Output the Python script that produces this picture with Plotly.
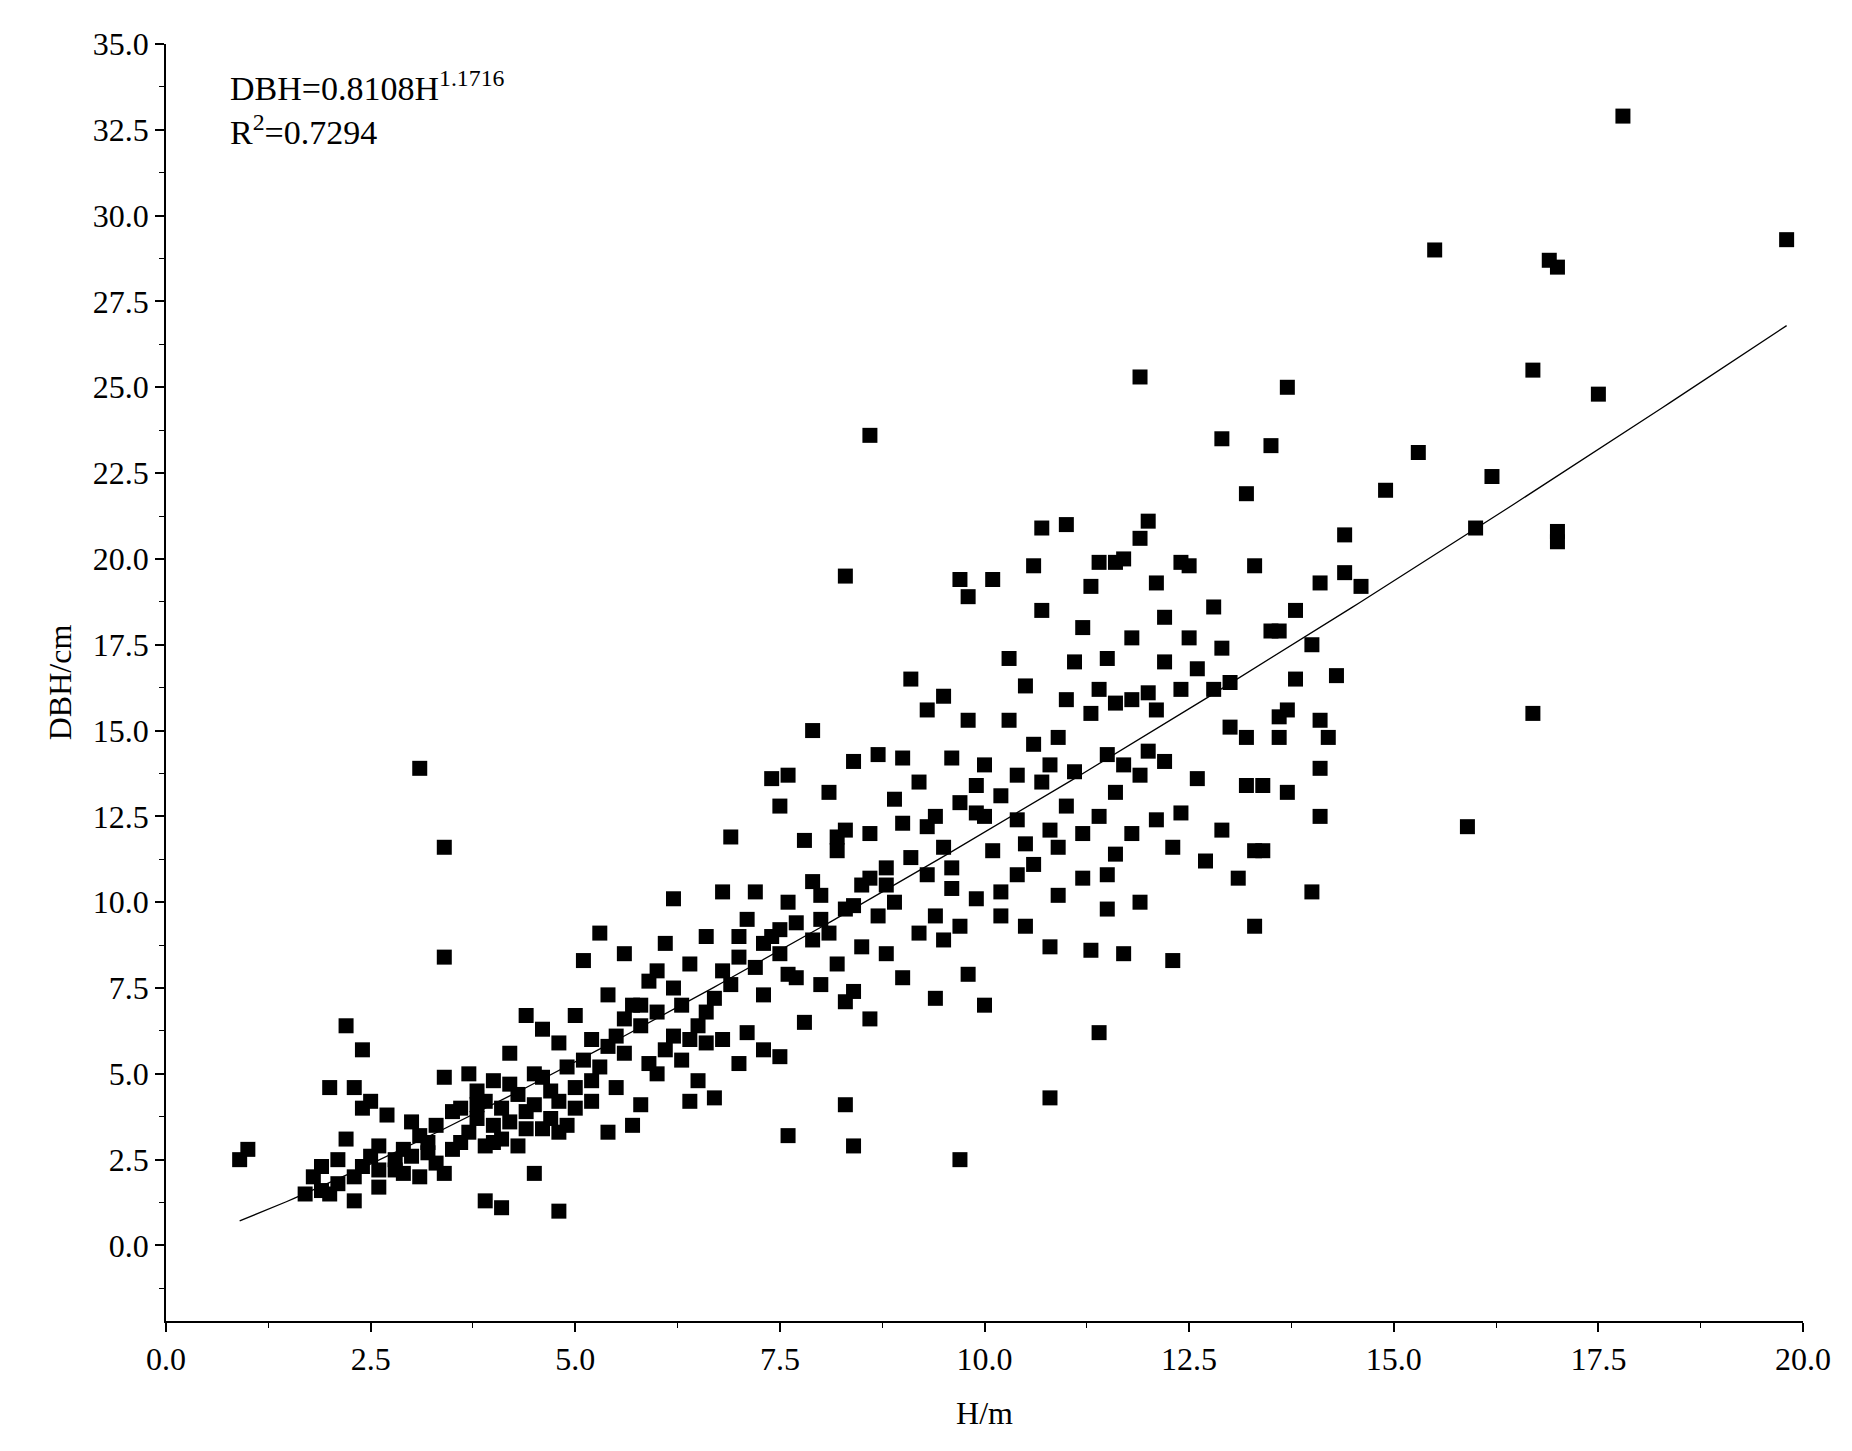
import numpy as np
import plotly.graph_objects as go

H = [0.9,1.0,3.1,3.4,3.4,8.6,8.3,11.9,13.7,12.9,13.5,15.5,17.8,19.8,16.9,17.0,16.7,17.5,15.3,14.9,16.2,16.0,17.0,17.0,16.7,15.9,14.0,14.1,14.1,14.1,14.2,14.3,14.4,14.4,14.6,14.1,13.8,14.0,13.2,13.3,11.4,10.8,9.7,8.4,8.3,7.6,4.8,4.1,3.9,4.5,2.2,2.4,2.0,1.7,2.3,
1.8,1.9,2.0,2.1,2.2,2.3,2.3,2.4,2.4,2.5,2.6,2.6,2.6,2.7,2.8,2.9,2.9,3.0,3.0,3.1,3.1,3.2,3.3,3.3,3.4,3.4,3.5,3.5,2.1,1.9,2.5,2.8,3.2,
3.6,3.7,3.7,3.8,3.8,3.9,3.9,4.0,4.0,4.1,4.1,4.2,4.2,4.3,4.3,4.4,4.4,4.5,4.5,4.6,4.6,4.7,4.7,4.8,4.8,4.9,4.9,5.0,5.0,3.6,3.8,4.0,4.2,4.4,4.6,4.8,5.0,
5.1,5.1,5.2,5.2,5.3,5.3,5.4,5.4,5.5,5.5,5.6,5.6,5.7,5.7,5.8,5.8,5.9,5.9,6.0,6.0,6.1,6.1,6.2,6.2,6.3,6.3,6.4,6.4,6.5,6.5,6.6,6.6,6.7,6.7,6.8,6.8,6.9,6.9,7.0,7.0,5.2,5.6,6.0,6.4,6.8,5.4,5.8,6.2,6.6,
7.1,7.1,7.2,7.2,7.3,7.3,7.4,7.4,7.5,7.5,7.5,7.6,7.6,7.7,7.7,7.8,7.8,7.9,7.9,8.0,8.0,8.1,8.1,8.2,8.2,8.3,8.3,8.4,8.4,8.5,8.5,8.6,8.6,8.7,8.7,8.8,8.8,8.9,8.9,9.0,9.0,7.3,7.6,8.0,8.4,8.8,7.9,8.2,8.6,9.0,7.0,7.5,8.3,
9.1,9.1,9.2,9.2,9.3,9.3,9.4,9.4,9.5,9.5,9.5,9.6,9.6,9.7,9.7,9.7,9.8,9.8,9.8,9.9,9.9,10.0,10.0,10.1,10.1,10.2,10.2,10.3,10.3,10.4,10.4,10.5,10.5,10.6,10.6,10.6,10.7,10.7,10.7,10.8,10.8,10.9,10.9,11.0,11.0,11.0,9.3,9.6,10.0,10.4,10.8,10.2,9.9,10.5,9.4,10.9,
11.1,11.1,11.2,11.2,11.3,11.3,11.3,11.4,11.4,11.4,11.5,11.5,11.5,11.6,11.6,11.6,11.7,11.7,11.7,11.8,11.8,11.8,11.9,11.9,11.9,12.0,12.0,12.1,12.1,12.1,12.2,12.2,12.3,12.3,12.4,12.4,12.4,12.5,12.5,12.6,12.7,12.8,12.8,12.9,12.9,13.0,13.0,11.2,11.6,12.0,12.6,11.5,12.2,
13.1,13.2,13.2,13.3,13.3,13.4,13.4,13.5,13.6,13.6,13.7,13.7,13.8,13.6]
DBH = [2.5,2.8,13.9,11.6,8.4,23.6,19.5,25.3,25.0,23.5,23.3,29.0,32.9,29.3,28.7,28.5,25.5,24.8,23.1,22.0,22.4,20.9,20.8,20.5,15.5,12.2,10.3,12.5,13.9,15.3,14.8,16.6,19.6,20.7,19.2,19.3,18.5,17.5,21.9,19.8,6.2,4.3,2.5,2.9,4.1,3.2,1.0,1.1,1.3,2.1,6.4,5.7,4.6,1.5,1.3,
2.0,2.3,1.5,2.5,3.1,2.0,4.6,2.3,4.0,4.2,2.2,2.9,1.7,3.8,2.5,2.8,2.1,3.6,2.6,2.0,3.2,2.7,3.5,2.4,4.9,2.1,3.9,2.8,1.8,1.6,2.6,2.2,3.0,
4.0,3.3,5.0,3.7,4.5,2.9,4.2,3.5,4.8,3.1,4.0,5.6,3.6,4.4,2.9,6.7,3.9,5.0,4.1,3.4,6.3,4.5,3.7,5.9,4.2,3.5,5.2,4.0,6.7,3.0,4.1,3.0,4.7,3.4,4.9,3.3,4.6,
5.4,8.3,4.8,6.0,9.1,5.2,3.3,7.3,6.1,4.6,8.5,5.6,7.0,3.5,6.4,4.1,7.7,5.3,6.8,5.0,8.8,5.7,10.1,6.1,7.0,5.4,4.2,8.2,6.4,4.8,9.0,5.9,7.2,4.3,6.0,10.3,11.9,7.6,8.4,5.3,4.2,6.6,8.0,6.0,8.0,5.8,7.0,7.5,6.8,
9.5,6.2,8.1,10.3,7.3,5.7,13.6,9.0,12.8,8.5,5.5,13.7,10.0,7.8,9.4,11.8,6.5,15.0,8.9,10.2,7.6,13.2,9.1,11.5,8.2,12.1,9.8,14.1,7.4,10.5,8.7,12.0,6.6,14.3,9.6,11.0,8.5,13.0,10.0,14.2,7.8,8.8,7.9,9.5,9.9,10.5,10.6,11.9,10.7,12.3,9.0,9.2,7.1,
16.5,11.3,9.1,13.5,15.6,10.8,12.5,7.2,16.0,11.6,8.9,14.2,10.4,19.4,12.9,9.3,18.9,15.3,7.9,12.6,10.1,14.0,7.0,19.4,11.5,13.1,9.6,17.1,15.3,12.4,10.8,16.3,9.3,19.8,14.6,11.1,20.9,18.5,13.5,12.1,8.7,14.8,10.2,21.0,15.9,12.8,12.2,11.0,12.5,13.7,14.0,10.3,13.4,11.7,9.6,11.6,
17.0,13.8,18.0,10.7,19.2,15.5,8.6,19.9,16.2,12.5,17.1,14.3,9.8,19.9,15.8,11.4,20.0,14.0,8.5,17.7,15.9,12.0,20.6,13.7,10.0,21.1,16.1,19.3,15.6,12.4,18.3,14.1,8.3,11.6,19.9,16.2,12.6,17.7,19.8,13.6,11.2,18.6,16.2,17.4,12.1,16.4,15.1,12.0,13.2,14.4,16.8,10.8,17.0,
10.7,14.8,13.4,11.5,9.3,11.5,13.4,17.9,15.4,14.8,15.6,13.2,16.5,17.9]

COEF_A = 0.8108
COEF_B = 1.1716
h_fit = np.linspace(0.9, 19.8, 200)
d_fit = COEF_A * h_fit ** COEF_B

FONT = "Liberation Serif"
fig = go.Figure()
fig.add_trace(go.Scatter(x=H, y=DBH, mode="markers",
                         marker=dict(symbol="square", size=15, color="black"), showlegend=False))
fig.add_trace(go.Scatter(x=h_fit, y=d_fit, mode="lines",
                         line=dict(color="black", width=1.3), showlegend=False))

axis_common = dict(showline=True, linecolor="black", linewidth=1.5, ticks="outside",
                   ticklen=9, tickwidth=1.5, tickcolor="black", showgrid=False, zeroline=False,
                   tickformat=".1f", dtick=2.5, tickfont=dict(family=FONT, size=32, color="black"),
                   minor=dict(ticks="outside", ticklen=5, tickwidth=1.2, tickcolor="black", dtick=1.25))
fig.update_xaxes(range=[0, 20], tick0=0,
                 title=dict(text="H/m", font=dict(family=FONT, size=32, color="black"), standoff=25),
                 **axis_common)
fig.update_yaxes(range=[-2.2, 35], tick0=0,
                 title=dict(text="DBH/cm", font=dict(family=FONT, size=32, color="black"), standoff=12),
                 **axis_common)
fig.add_annotation(xref="paper", yref="paper", x=0.038, y=0.985, xanchor="left", yanchor="top",
                   align="left", showarrow=False,
                   text=f"DBH={COEF_A}H<sup>{COEF_B}</sup><br>R<sup>2</sup>=0.7294",
                   font=dict(family=FONT, size=34, color="black"))
fig.update_layout(width=1852, height=1451, plot_bgcolor="white", paper_bgcolor="white",
                  margin=dict(l=158, r=57, t=36, b=138))
fig.write_html("out.html")
